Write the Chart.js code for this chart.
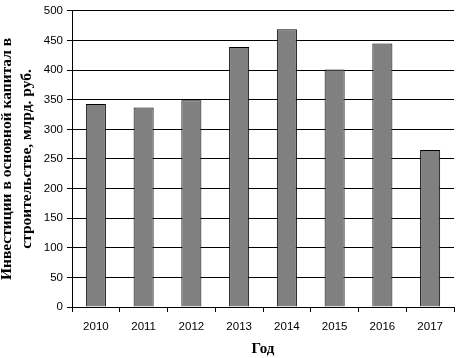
<!DOCTYPE html>
<html><head><meta charset="utf-8">
<script src="https://cdn.jsdelivr.net/npm/chart.js@4"></script>
<style>html,body{margin:0;padding:0;background:#fff}#wrap{width:456px;height:358px}</style>
</head><body><div id="wrap"><canvas id="c" width="456" height="358"></canvas></div>
<script>
const years = ['2010','2011','2012','2013','2014','2015','2016','2017'];
const investments = [343, 337, 349, 439, 469, 401, 445, 265];
const yTitle = ['Инвестиции в основной капитал в', 'строительстве, млрд. руб.'];
const xTitle = 'Год';

new Chart(document.getElementById('c'), {
  type: 'bar',
  data: { labels: years, datasets: [{ data: investments, backgroundColor: '#808080', borderColor: '#000', borderWidth: 1, barPercentage: 0.42, categoryPercentage: 1 }] },
  options: {
    responsive: false, animation: false, devicePixelRatio: 1,
    layout: { padding: { left: 0, right: 2, top: 5, bottom: 0 } },
    plugins: { legend: { display: false }, tooltip: { enabled: false } },
    scales: {
      x: {
        grid: { display: true, drawOnChartArea: false, drawTicks: true, tickLength: 5, color: '#000', offset: true },
        border: { color: '#000', width: 1 },
        ticks: { color: '#000', font: { family: 'Liberation Sans', size: 11.5 }, padding: 8 },
        title: { display: true, text: xTitle, color: '#000', font: { family: 'Liberation Serif', size: 15, weight: 'bold' }, padding: { top: 6, bottom: 0 } },
        afterFit: (s) => { s.height = 51; }
      },
      y: {
        min: 0, max: 500,
        ticks: { stepSize: 50, color: '#000', font: { family: 'Liberation Sans', size: 11.5 }, padding: 4 },
        grid: { color: '#000', drawTicks: true, tickLength: 5 },
        border: { color: '#000', width: 1 },
        title: { display: true, text: yTitle, color: '#000', font: { family: 'Liberation Serif', size: 15.5, weight: 'bold', lineHeight: '20px' }, padding: { top: -3, bottom: 6 } },
        afterFit: (s) => { s.width = 72; }
      }
    }
  }
});
</script></body></html>
